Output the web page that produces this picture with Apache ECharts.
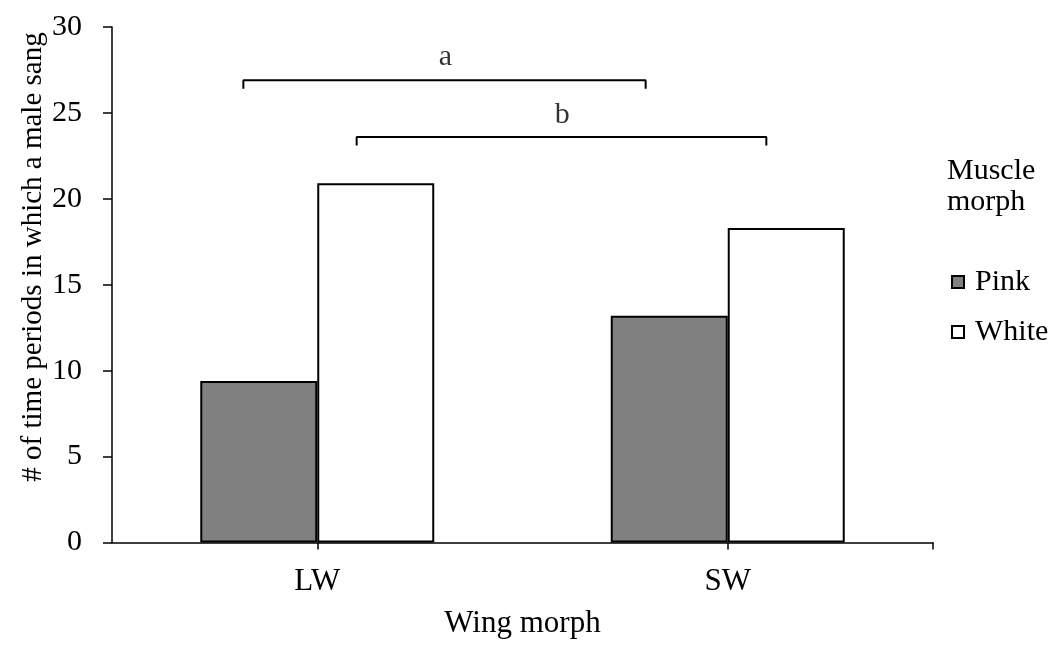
<!DOCTYPE html>
<html>
<head>
<meta charset="utf-8">
<script src="https://cdn.jsdelivr.net/npm/echarts@6/dist/echarts.min.js"></script>
<style>html,body{margin:0;padding:0;background:#fff;}#c{width:1059px;height:645px;}</style>
</head>
<body>
<div id="c"></div>
<script>
// ---- data ----
const categories = ['LW', 'SW'];
const pinkValues = [9.4, 13.2];
const whiteValues = [20.9, 18.3];
const yTicks = [0, 5, 10, 15, 20, 25, 30];
// significance brackets: [xStart, xEnd, yLine, yEnd] in category units / data units
const bracketA = [-0.18, 0.80, 26.9, 26.4];
const bracketB = [0.096, 1.094, 23.6, 23.1];
const bracketLabels = [
  { name: 'a', x: 0.312, y: 28.25 },
  { name: 'b', x: 0.597, y: 24.9 }
];

const FONT = "'Liberation Serif', 'Times New Roman', serif";

function bracketPoints(b) {
  return [[b[0], b[3]], [b[0], b[2]], [b[1], b[2]], [b[1], b[3]]];
}

const chart = echarts.init(document.getElementById('c'), null, { renderer: 'canvas' });
chart.setOption({
  animation: false,
  backgroundColor: '#fff',
  grid: { left: 112, right: 126, top: 27, bottom: 102.5, containLabel: false, outerBoundsMode: 'none' },
  xAxis: [
    {
      type: 'category',
      data: categories,
      axisLine: { show: true, onZero: false, lineStyle: { color: '#000', width: 1.5 } },
      axisTick: { show: true, alignWithLabel: true, length: 7, lineStyle: { color: '#000', width: 1.5 } },
      axisLabel: { color: '#000', fontFamily: FONT, fontSize: 31, margin: 24 },
      name: 'Wing morph',
      nameLocation: 'middle',
      nameGap: 66,
      nameTextStyle: { color: '#000', fontFamily: FONT, fontSize: 31 }
    },
    {
      type: 'value',
      min: -0.5,
      max: 1.5,
      position: 'bottom',
      axisLine: { show: false, onZero: false },
      axisLabel: { show: false },
      splitLine: { show: false },
      axisTick: { show: true, length: 7, customValues: [1.5], lineStyle: { color: '#000', width: 1.5 } }
    }
  ],
  yAxis: {
    type: 'value',
    min: 0,
    max: 30,
    interval: 5,
    axisLine: { show: true, onZero: false, lineStyle: { color: '#000', width: 1.5 } },
    axisTick: { show: true, length: 9, lineStyle: { color: '#000', width: 1.5 } },
    splitLine: { show: false },
    axisLabel: { color: '#000', fontFamily: FONT, fontSize: 30, margin: 30 }
  },
  legend: {
    orient: 'vertical',
    left: 946,
    top: 261,
    data: ['Pink', 'White'],
    icon: 'rect',
    itemWidth: 12,
    itemHeight: 12,
    itemGap: 18,
    textStyle: { color: '#000', fontFamily: FONT, fontSize: 30, lineHeight: 32, padding: [0, 0, 0, 6] }
  },
  graphic: [
    {
      type: 'text',
      left: 947,
      top: 156,
      style: { text: 'Muscle\nmorph', fill: '#000', font: "30px " + FONT, lineHeight: 31 }
    },
    {
      type: 'text',
      x: 33,
      y: 257,
      rotation: Math.PI / 2,
      style: {
        text: '# of time periods in which a male sang',
        fill: '#000',
        font: "29px " + FONT,
        align: 'center',
        verticalAlign: 'middle'
      }
    }
  ],
  series: [
    {
      name: 'Pink',
      type: 'bar',
      data: pinkValues,
      barGap: '0%',
      barCategoryGap: '43%',
      itemStyle: { color: '#808080', borderColor: '#000', borderWidth: 2 }
    },
    {
      name: 'White',
      type: 'bar',
      data: whiteValues,
      barGap: '0%',
      barCategoryGap: '43%',
      itemStyle: { color: '#fff', borderColor: '#000', borderWidth: 2 }
    },
    {
      name: 'bracketA',
      type: 'line',
      xAxisIndex: 1,
      data: bracketPoints(bracketA),
      symbol: 'none',
      lineStyle: { color: '#000', width: 2 },
      silent: true
    },
    {
      name: 'bracketB',
      type: 'line',
      xAxisIndex: 1,
      data: bracketPoints(bracketB),
      symbol: 'none',
      lineStyle: { color: '#000', width: 2 },
      silent: true
    },
    {
      name: 'bracketLabels',
      type: 'scatter',
      xAxisIndex: 1,
      symbolSize: 0,
      data: bracketLabels.map(d => ({ name: d.name, value: [d.x, d.y] })),
      label: {
        show: true,
        position: 'inside',
        formatter: p => p.name,
        color: '#000',
        fontFamily: FONT,
        fontSize: 30
      },
      silent: true
    }
  ]
});
</script>
</body>
</html>
